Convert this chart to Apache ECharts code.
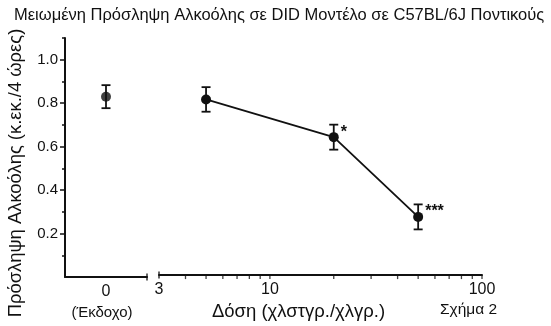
<!DOCTYPE html>
<html>
<head>
<meta charset="utf-8">
<script src="https://cdn.jsdelivr.net/npm/echarts@6/dist/echarts.min.js"></script>
<style>
  html, body { margin: 0; padding: 0; background: #fff; }
  #chart { width: 551px; height: 326px; }
</style>
</head>
<body>
<div id="chart"></div>
<script>
// Texts
const titleText = 'Μειωμένη Πρόσληψη Αλκοόλης σε DID Μοντέλο σε C57BL/6J Ποντικούς';
const yTitle = 'Πρόσληψη Αλκοόλης (κ.εκ./4 ώρες)';
const xTitle = 'Δόση (χλστγρ./χλγρ.)';
const vehicleLabel = '(Έκδοχο)';
const figLabel = 'Σχήμα 2';

// Vehicle group (mean ± SEM)
const vehicleMean = [0.83];
const vehicleSem = [0.053];

// Dose groups, mg/kg (mean ± SEM) and significance marks
const doses = [5, 20, 50];
const doseMeans = [0.815, 0.64, 0.27];
const doseSems = [0.057, 0.058, 0.058];
const doseMarks = ['', '*', '***'];

// Ticks
const yMajorTicks = [0.2, 0.4, 0.6, 0.8, 1.0];
const yMinorTicks = [0.1, 0.3, 0.5, 0.7, 0.9, 1.1];
const xLabelTicks = [3, 10, 100];
const xMinorTicks = [4, 5, 6, 7, 8, 9, 10, 20, 30, 40, 50, 60, 70, 80, 90, 100];
const xBreakEnds = [3];

const FONT = "'Liberation Sans', Arial, sans-serif";
const INK = '#111';

function errorBar(params, api) {
  const x = api.value(0), y = api.value(1), e = api.value(2);
  const top = api.coord([x, y + e]);
  const bot = api.coord([x, y - e]);
  const w = 4.5;
  const st = { stroke: INK, lineWidth: 1.8 };
  return {
    type: 'group',
    children: [
      { type: 'line', shape: { x1: top[0], y1: top[1], x2: bot[0], y2: bot[1] }, style: st },
      { type: 'line', shape: { x1: top[0] - w, y1: top[1], x2: top[0] + w, y2: top[1] }, style: st },
      { type: 'line', shape: { x1: bot[0] - w, y1: bot[1], x2: bot[0] + w, y2: bot[1] }, style: st }
    ]
  };
}

// Small tick marks hanging off the x axis line
function tickSeries(xAxisIndex, yAxisIndex, values, size, offset) {
  return {
    type: 'scatter', xAxisIndex, yAxisIndex,
    symbol: 'rect', symbolSize: size, symbolOffset: [0, offset],
    itemStyle: { color: INK },
    clip: false, silent: true, z: 5,
    data: values.map(v => [v, 0])
  };
}

const axisLine = { show: true, onZero: false, lineStyle: { color: INK, width: 2 } };

const chart = echarts.init(document.getElementById('chart'), null, { renderer: 'canvas' });
chart.setOption({
  animation: false,
  backgroundColor: '#fff',
  textStyle: { fontFamily: FONT },
  title: {
    text: titleText,
    left: 9, top: 2,
    textStyle: { fontSize: 16.5, fontWeight: 'normal', color: INK, fontFamily: FONT }
  },
  graphic: [{
    type: 'text', left: 440, top: 302,
    style: { text: figLabel, fontSize: 15.5, fill: INK, fontFamily: FONT }
  }],
  grid: [
    { left: 65, top: 38, width: 82, height: 239 },
    { left: 159, top: 38, width: 323, height: 239 }
  ],
  xAxis: [
    {
      type: 'value', gridIndex: 0, min: -1, max: 1,
      axisLine: axisLine,
      splitLine: { show: false },
      axisTick: { show: false },
      axisLabel: {
        customValues: [0], margin: 6,
        formatter: () => '{a|0}\n{b|' + vehicleLabel + '}',
        rich: {
          a: { fontSize: 16, lineHeight: 18, color: INK, fontFamily: FONT },
          b: { fontSize: 15, lineHeight: 23, color: INK, fontFamily: FONT, padding: [0, 8, 0, 0] }
        }
      }
    },
    {
      type: 'log', gridIndex: 1, min: 3, max: 100, logBase: 10,
      axisLine: axisLine,
      splitLine: { show: false },
      axisTick: { show: false },
      axisLabel: {
        customValues: xLabelTicks, margin: 6,
        fontSize: 16, color: INK, fontFamily: FONT,
        formatter: v => String(Math.round(v))
      },
      name: xTitle, nameLocation: 'middle', nameGap: 26,
      nameTextStyle: { fontSize: 18.5, color: INK, fontFamily: FONT, padding: [0, 44, 0, 0] }
    }
  ],
  yAxis: [
    {
      type: 'value', gridIndex: 0, min: 0, max: 1.1, position: 'left',
      axisLine: axisLine,
      splitLine: { show: false },
      axisTick: { show: true, customValues: yMajorTicks, length: 5, lineStyle: { color: INK, width: 1.5 } },
      axisLabel: {
        customValues: yMajorTicks, margin: 7,
        fontSize: 15, color: INK, fontFamily: FONT,
        formatter: v => v.toFixed(1)
      },
      name: yTitle, nameLocation: 'middle', nameGap: 40, nameRotate: 90,
      nameTextStyle: { fontSize: 18.4, color: INK, fontFamily: FONT, padding: [0, 31, 0, 0] }
    },
    {
      type: 'value', gridIndex: 0, min: 0, max: 1.1, position: 'left',
      axisLine: { show: false, onZero: false },
      splitLine: { show: false },
      axisTick: { show: true, customValues: yMinorTicks, length: 3, lineStyle: { color: INK, width: 1.5 } },
      axisLabel: { show: false }
    },
    {
      type: 'value', gridIndex: 1, min: 0, max: 1.1, show: false
    }
  ],
  series: [
    // axis break ends and log-scale ticks
    tickSeries(0, 0, [1], [1.6, 7], 0),
    tickSeries(1, 2, xBreakEnds, [1.6, 7], 0),
    tickSeries(1, 2, xMinorTicks, [1.3, 4], 2),
    {
      type: 'custom', xAxisIndex: 0, yAxisIndex: 0,
      renderItem: errorBar,
      data: vehicleMean.map((m, i) => [0, m, vehicleSem[i]]),
      z: 3
    },
    {
      type: 'scatter', xAxisIndex: 0, yAxisIndex: 0,
      symbol: 'circle', symbolSize: 10,
      itemStyle: { color: INK },
      data: vehicleMean.map(m => [0, m]),
      z: 4
    },
    {
      type: 'custom', xAxisIndex: 1, yAxisIndex: 2,
      renderItem: errorBar,
      data: doses.map((d, i) => [d, doseMeans[i], doseSems[i]]),
      z: 3
    },
    {
      type: 'line', xAxisIndex: 1, yAxisIndex: 2,
      symbol: 'circle', symbolSize: 10,
      lineStyle: { color: INK, width: 1.8 },
      itemStyle: { color: INK },
      label: {
        show: true, position: 'right', distance: 2, offset: [0, -5],
        fontSize: 16, fontWeight: 'bold', color: INK, fontFamily: FONT,
        formatter: p => doseMarks[p.dataIndex]
      },
      data: doses.map((d, i) => [d, doseMeans[i]]),
      z: 4
    }
  ]
});
</script>
</body>
</html>
